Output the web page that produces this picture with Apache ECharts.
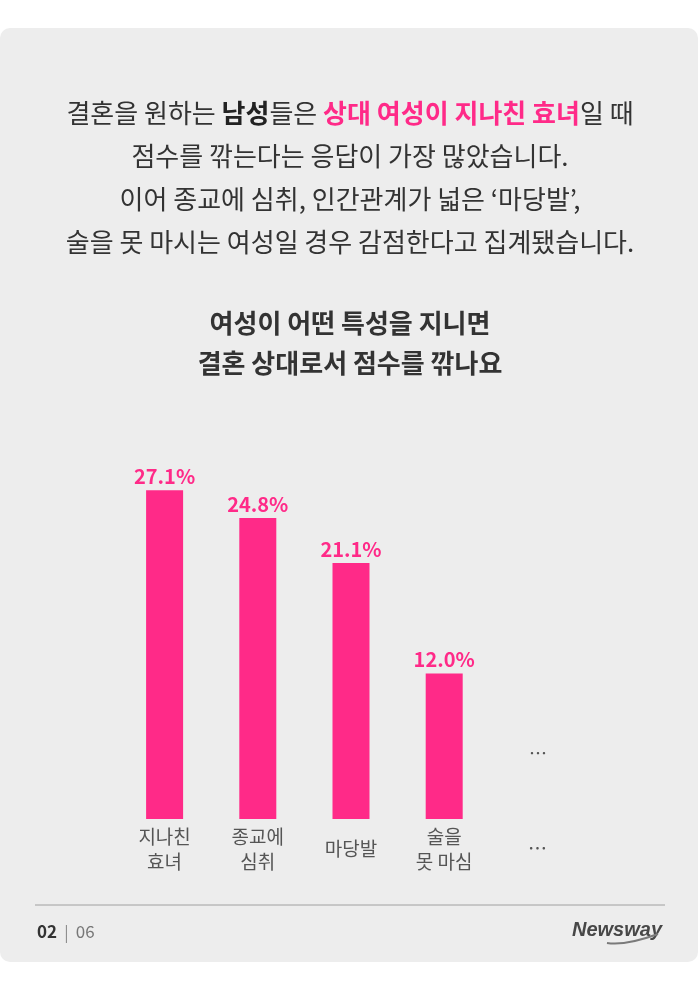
<!DOCTYPE html>
<html>
<head>
<meta charset="utf-8" />
<title>Chart</title>
<script src="https://cdn.jsdelivr.net/npm/echarts@6/dist/echarts.min.js"></script>
<style>
  * { margin: 0; padding: 0; }
  body { background: #ffffff; }
  #chart { width: 700px; height: 990px; }
</style>
</head>
<body>
<div id="chart"></div>
<script>
  // data
  var categories = ['지나친\n효녀', '종교에\n심취', '마당발', '술을\n못 마심', '…'];
  var values = [27.1, 24.8, 21.1, 12.0, '-'];

  var introLines = [
    '결혼을 원하는 {b|남성}들은 {p|상대 여성이 지나친 효녀}일 때',
    '점수를 깎는다는 응답이 가장 많았습니다.',
    '이어 종교에 심취, 인간관계가 넓은 ‘마당발’,',
    '술을 못 마시는 여성일 경우 감점한다고 집계됐습니다.'
  ];

  var PINK = '#ff2a88';
  var FONT = '"Noto Sans CJK KR", "Noto Sans", sans-serif';

  var chart = echarts.init(document.getElementById('chart'));

  var graphics = [
    // card
    {
      type: 'rect', z: -10,
      shape: { x: 0, y: 28, width: 698, height: 934, r: 10 },
      style: { fill: '#ededed' }
    },
    // upper ellipsis in the last column
    {
      type: 'text', x: 538, y: 753,
      style: {
        text: '…', fill: '#555555', font: '18px ' + FONT,
        align: 'center', verticalAlign: 'middle'
      }
    },
    // footer line
    {
      type: 'line',
      shape: { x1: 35, y1: 905, x2: 665, y2: 905 },
      style: { stroke: '#a0a0a0', lineWidth: 1 }
    },
    {
      type: 'text', x: 37, y: 932,
      style: {
        text: '{b|02}{s|  |  }{n|06}',
        verticalAlign: 'middle',
        rich: {
          b: { fontWeight: 'bold', fontSize: 17, fill: '#333333', fontFamily: FONT },
          s: { fontSize: 16, fill: '#888888', fontFamily: FONT },
          n: { fontSize: 17, fill: '#777777', fontFamily: FONT }
        }
      }
    },
    // logo
    {
      type: 'text', x: 662, y: 930,
      style: {
        text: 'Newsway', fill: '#474747',
        font: 'italic bold 20px "Liberation Sans", Arial, sans-serif',
        align: 'right', verticalAlign: 'middle'
      }
    },
    {
      type: 'bezierCurve',
      shape: { x1: 607, y1: 943, cpx1: 625, cpy1: 946, x2: 658, y2: 934 },
      style: { stroke: '#7a7a7a', lineWidth: 2, fill: null }
    }
  ];

  // intro lines, one text element each so they stay centred
  introLines.forEach(function (line, i) {
    graphics.push({
      type: 'text', x: 350, y: 113 + i * 43,
      style: {
        text: line,
        fill: '#333333',
        font: '26px ' + FONT,
        align: 'center',
        verticalAlign: 'middle',
        rich: {
          b: { fontWeight: 'bold', fontSize: 26, fill: '#222222', fontFamily: FONT },
          p: { fontWeight: 'bold', fontSize: 26, fill: PINK, fontFamily: FONT }
        }
      }
    });
  });

  chart.setOption({
    backgroundColor: '#ffffff',
    animation: false,
    title: {
      text: '여성이 어떤 특성을 지니면\n결혼 상대로서 점수를 깎나요',
      left: 'center',
      top: 298,
      textStyle: {
        color: '#333333',
        fontSize: 26,
        fontWeight: 'bold',
        fontFamily: FONT,
        lineHeight: 40
      }
    },
    grid: { left: 118, right: 116, top: 455, bottom: 171 },
    xAxis: {
      type: 'category',
      data: categories,
      axisLine: { show: false },
      axisTick: { show: false },
      axisLabel: {
        interval: 0,
        margin: 30,
        verticalAlign: 'middle',
        color: '#555555',
        fontSize: 19,
        lineHeight: 25,
        fontFamily: FONT
      }
    },
    yAxis: {
      type: 'value',
      min: 0,
      max: 30,
      show: false,
      splitLine: { show: false }
    },
    series: [{
      type: 'bar',
      data: values,
      barWidth: 37,
      itemStyle: { color: PINK },
      label: {
        show: true,
        position: 'top',
        distance: 4,
        formatter: function (p) { return p.value.toFixed(1) + '%'; },
        color: PINK,
        fontSize: 20,
        fontWeight: 'bold',
        fontFamily: FONT
      }
    }],
    graphic: graphics
  });
</script>
</body>
</html>
